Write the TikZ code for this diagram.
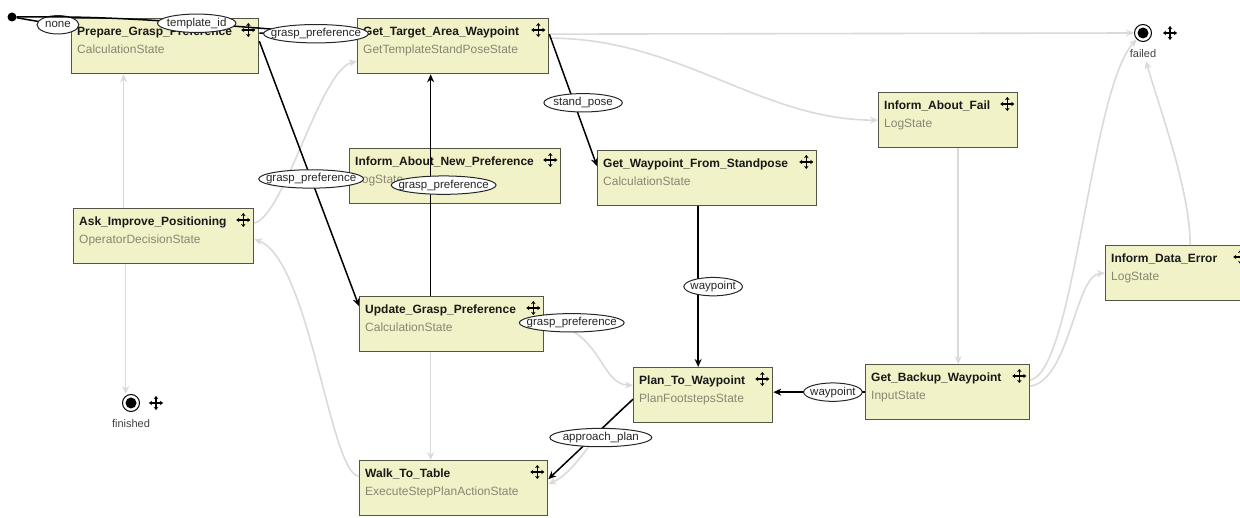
\documentclass[tikz,border=0pt]{standalone}
\usepackage{fontspec}
\setmainfont{Liberation Sans}
\usetikzlibrary{arrows.meta,calc,positioning,shapes.geometric}
\definecolor{boxfill}{RGB}{242,242,200}
\definecolor{boxline}{RGB}{85,85,70}
\definecolor{classgray}{RGB}{135,135,115}
\definecolor{transgray}{RGB}{218,218,218}

\begin{document}
\begin{tikzpicture}[x=1pt, y=-1pt,
    statebox/.style={draw=boxline, fill=boxfill, line width=1.3pt, anchor=north west, minimum height=55pt, inner sep=0pt},
    titletext/.style={anchor=base west, inner sep=0pt, font=\bfseries\fontsize{12}{14}\selectfont, text=black!90},
    classtext/.style={anchor=base west, inner sep=0pt, text=classgray, font=\fontsize{12}{14}\selectfont},
    lbl/.style={ellipse, draw=black!85, fill=white, line width=1pt, inner xsep=-2pt, inner ysep=0.5pt, text height=9pt, text depth=3pt, font=\fontsize{11.5}{13}\selectfont, text=black!85},
    gp/.style={inner xsep=-8pt},
    flow/.style={draw=black, line width=1.5pt, -{Stealth[length=8pt,width=7pt]}},
    trans/.style={draw=transgray, line width=1.6pt, -{Stealth[length=8pt,width=7pt]}},
    finalst/.style={circle, draw, line width=1pt, minimum size=17pt, inner sep=0pt, path picture={\fill (path picture bounding box.center) circle (5.5pt);}},
    endtext/.style={font=\fontsize{11}{13}\selectfont, text=black!75},
    moveicon/.pic={\foreach \a in {0,90,180,270} \draw[line width=1.2pt, -{Stealth[length=3pt,width=4.5pt]}] (0,0) -- (\a:7pt);}]

\useasboundingbox (0,0) rectangle (1240,518);

% states
\foreach \nm/\px/\py/\bw/\ttl/\cls in {
    prep/71/18/187/Prepare\_Grasp\_Preference/CalculationState,
    target/357/18/191/Get\_Target\_Area\_Waypoint/GetTemplateStandPoseState,
    ifail/878/92/139/Inform\_About\_Fail/LogState,
    inewpref/349/148/211/Inform\_About\_New\_Preference/LogState,
    gwp/597/150/219/Get\_Waypoint\_From\_Standpose/CalculationState,
    ask/73/208/180/Ask\_Improve\_Positioning/OperatorDecisionState,
    idata/1105/245/145/Inform\_Data\_Error/LogState,
    upd/359/296/184/Update\_Grasp\_Preference/CalculationState,
    plan/633/367/139/Plan\_To\_Waypoint/PlanFootstepsState,
    backup/865/364/164/Get\_Backup\_Waypoint/InputState,
    walk/359/460/188/Walk\_To\_Table/ExecuteStepPlanActionState}
{
    \node[statebox, minimum width=\bw pt] (\nm) at (\px,\py) {};
    \node[titletext] (\nm-t) at ([xshift=6pt,yshift=-18pt]\nm.north west) {\ttl};
    \node[classtext] (\nm-c) at ([xshift=6pt,yshift=-36pt]\nm.north west) {\cls};
    \pic at ([xshift=-11pt,yshift=-12pt]\nm.north east) {moveicon};
}

% start and outcomes
\node[circle, fill=black, minimum size=9pt, inner sep=0pt] (init) at (12,17) {};
\node[finalst] (failed) at (1143,33) {};
\node[endtext, below=4pt of failed] (flabel) {failed};
\pic at ([xshift=27pt]failed.center) {moveicon};
\node[finalst] (finished) at (131,403) {};
\node[endtext, below=4pt of finished] (fnlabel) {finished};
\pic at ([xshift=25pt]finished.center) {moveicon};

% transitions
\draw[trans] ([yshift=12pt]target.east) -- (failed.west);
\draw[trans] ([yshift=8pt]target.east) .. controls (680,38) and (760,120) .. (ifail.west);
\draw[trans] ([xshift=10pt]ifail.south) -- ([xshift=10pt]ifail.south |- backup.north);
\draw[trans] ([yshift=12pt]backup.east) .. controls (1075,370) and (1090,90) .. (failed.south west);
\draw[trans] ([yshift=6pt]backup.east) .. controls (1070,380) and (1075,275) .. (idata.west);
\draw[trans] ([xshift=12pt]idata.north) .. controls (1190,190) and (1160,110) .. ([xshift=3pt]flabel.south);
\draw[trans] ([xshift=-40pt]ask.north) -- ([xshift=-40pt]ask.north |- prep.south);
\draw[trans] ([xshift=-38pt]ask.south) -- ([xshift=-38pt]ask.south |- finished.north);
\draw[trans] ([yshift=13pt]ask.east) .. controls (285,215) and (320,70) .. ([yshift=-15pt]target.west);
\draw[trans] ([yshift=12pt]walk.west) .. controls (330,475) and (310,260) .. ([yshift=-3pt]ask.east);
\draw[trans] ([xshift=-21pt]upd.south) -- ([xshift=-21pt]upd.south |- walk.north);
\draw[trans] ([yshift=-6pt]plan.west) .. controls (600,420) and (580,470) .. ([yshift=4pt]walk.east);
\draw[trans] (upd.east) .. controls (600,325) and (600,385) .. node[lbl, gp, pos=0.2, yshift=8pt] {grasp\_preference} ([yshift=10pt]plan.west);

% data flow
\draw[flow] (init) -- node[lbl, pos=0.76, inner xsep=2pt] {none} ([yshift=-9pt]prep.north west);
\draw[flow] (init) .. controls (150,15) and (250,30) .. node[lbl, pos=0.5] {template\_id} ([yshift=12pt]target.west);
\draw[flow] ([yshift=13pt]prep.east) -- node[lbl, gp, pos=0.58] {grasp\_preference} ([yshift=12pt]target.west);
\draw[flow] ([yshift=5pt]prep.east) -- node[lbl, gp, pos=0.52] {grasp\_preference} ([yshift=18pt]upd.west);
\draw[flow] ([xshift=-21pt]upd.north) -- node[lbl, gp, pos=0.5, xshift=13pt] {grasp\_preference} ([xshift=-21pt]upd.north |- target.south);
\draw[flow] ([yshift=12pt]target.east) -- node[lbl, pos=0.52, xshift=9pt] {stand\_pose} ([yshift=12pt]gwp.west);
\draw[flow] ([xshift=-9pt]gwp.south) -- node[lbl, pos=0.5, xshift=15pt] {waypoint} ([xshift=-9pt]gwp.south |- plan.north);
\draw[flow] (backup.west) -- node[lbl, pos=0.35] {waypoint} (backup.west -| plan.east);
\draw[flow] ([yshift=-4pt]plan.west) -- node[lbl, pos=0.38, yshift=-8pt] {approach\_plan} ([yshift=9pt]walk.east);

\end{tikzpicture}
\end{document}
